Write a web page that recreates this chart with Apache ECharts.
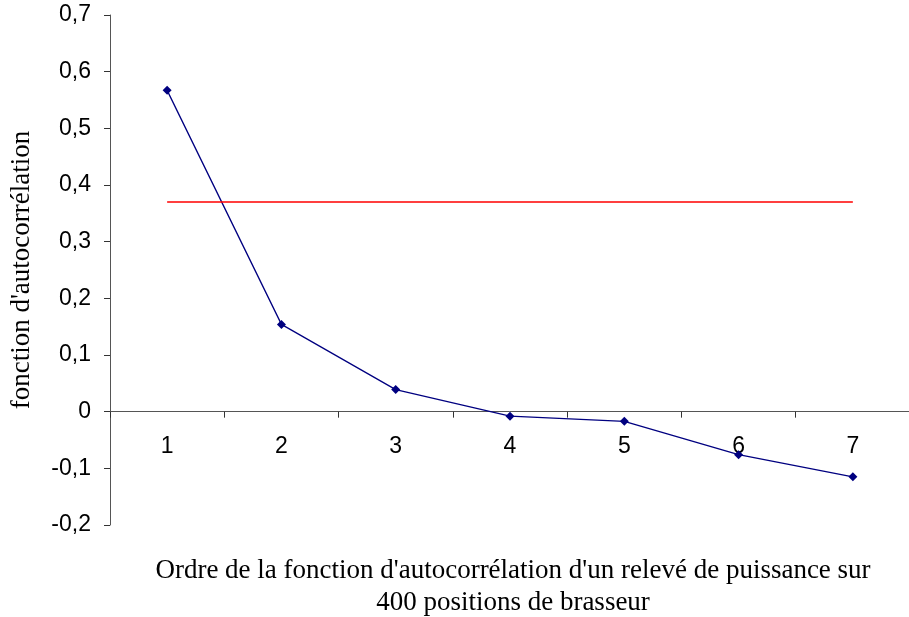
<!DOCTYPE html>
<html><head><meta charset="utf-8">
<script src="https://cdn.jsdelivr.net/npm/echarts@6/dist/echarts.min.js"></script>
<style>html,body{margin:0;padding:0;background:#fff}#c{width:909px;height:617px}</style>
</head><body><div id="c"></div>
<script>
const categories = ['1','2','3','4','5','6','7'];
const autocorr = [0.567, 0.154, 0.039, -0.008, -0.017, -0.076, -0.115];
const threshold = [0.37, 0.37, 0.37, 0.37, 0.37, 0.37, 0.37];
const yAxisTitle = "fonction d'autocorrélation";
const xAxisTitle = "Ordre de la fonction d'autocorrélation d'un relevé de puissance sur\n400 positions de brasseur";

const gridH = 510, yMin = -0.2, yMax = 0.7;
const chart = echarts.init(document.getElementById('c'));
chart.setOption({
  animation: false,
  backgroundColor: '#fff',
  grid: {left: 110, top: 15, width: 800, height: gridH, containLabel: false, outerBoundsMode: 'none'},
  xAxis: {
    type: 'category', data: categories, boundaryGap: true,
    offset: -gridH * (0 - yMin) / (yMax - yMin),
    axisLine: {onZero: false, lineStyle: {color: '#555', width: 1}},
    axisTick: {show: true, length: 6, inside: false, lineStyle: {color: '#333'}},
    axisLabel: {fontFamily: 'Liberation Sans', fontSize: 23, color: '#000', margin: 23},
    splitLine: {show: false}
  },
  yAxis: {
    type: 'value', min: yMin, max: yMax, interval: 0.1,
    axisLine: {show: true, lineStyle: {color: '#555', width: 1}},
    axisTick: {show: true, length: 6, lineStyle: {color: '#333'}},
    axisLabel: {fontFamily: 'Liberation Sans', fontSize: 23, color: '#000', margin: 19,
      formatter: v => (Math.round(v*10)/10).toString().replace('.', ',')},
    splitLine: {show: false}
  },
  series: [
    {type: 'line', data: autocorr, symbol: 'diamond', symbolSize: 9,
     lineStyle: {color: '#000080', width: 1.3}, itemStyle: {color: '#000080'}},
    {type: 'line', data: threshold, symbol: 'none',
     lineStyle: {color: '#ff0000', width: 1.3}}
  ],
  graphic: [{
    type: 'text', x: 513, y: 555,
    style: {text: xAxisTitle, fontFamily: 'Liberation Serif', fontSize: 27, fill: '#000',
      align: 'center', verticalAlign: 'top', lineHeight: 32}
  }, {
    type: 'text', x: 22, y: 270, rotation: Math.PI / 2,
    style: {text: yAxisTitle, fontFamily: 'Liberation Serif', fontSize: 27, fill: '#000',
      align: 'center', verticalAlign: 'middle'}
  }]
});
</script></body></html>
